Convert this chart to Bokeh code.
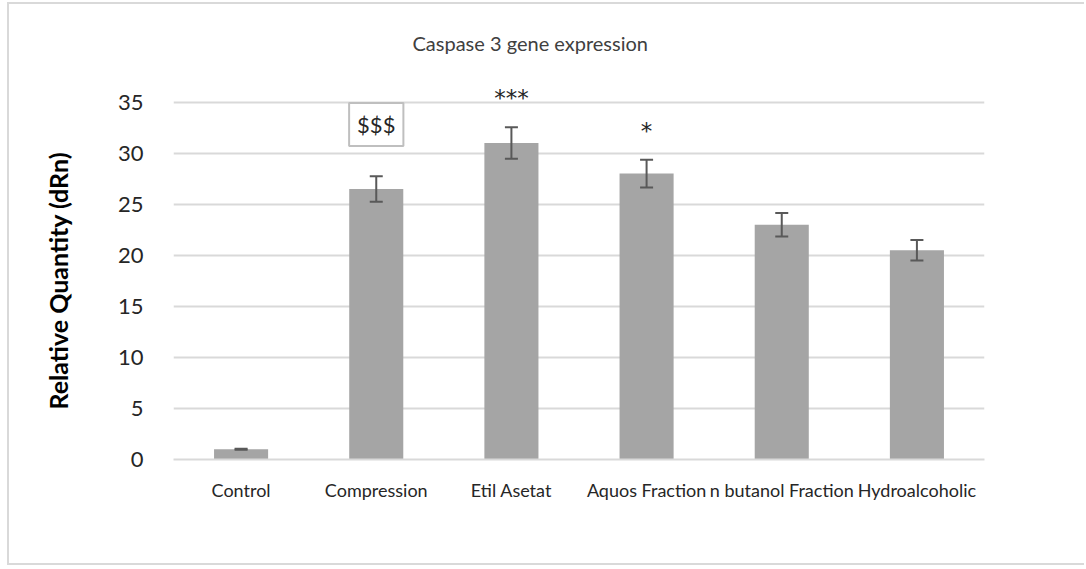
from bokeh.plotting import figure
from bokeh.models import ColumnDataSource, FactorRange, Whisker, TeeHead, Label, Range1d, SingleIntervalTicker
from bokeh.core.properties import value
from bokeh.embed import file_html
from bokeh.resources import INLINE

# Caspase 3 relative expression per treatment group
categories = ["Control", "Compression", "Etil Asetat", "Aquos Fraction",
              "n butanol Fraction", "Hydroalcoholic"]
means = [1.0, 26.5, 31.0, 28.0, 23.0, 20.5]
errors = [0.05, 1.25, 1.55, 1.35, 1.15, 1.0]
stars = ["", "", "***", "*", "", ""]
boxed_mark = "$$$"
boxed_group = "Compression"
y_ticks = [0, 5, 10, 15, 20, 25, 30, 35]

FONT = "Lato"
GRID = "#d9d9d9"
TEXT = "#262626"

src = ColumnDataSource(dict(
    cat=categories,
    mean=means,
    upper=[m + e for m, e in zip(means, errors)],
    lower=[m - e for m, e in zip(means, errors)],
))

p = figure(
    x_range=FactorRange(*categories),
    y_range=Range1d(0, 38),
    width=1077, height=563,
    min_border_left=164, min_border_right=102,
    min_border_top=67, min_border_bottom=108,
    output_backend="svg", toolbar_location=None,
    title="Caspase 3 gene expression",
)
p.styles = {
    "margin-left": "7px", "margin-top": "2px",
    "border-left": f"2px solid {GRID}",
    "border-top": f"2px solid {GRID}",
    "border-bottom": f"2px solid {GRID}",
}
p.outline_line_color = None
p.background_fill_color = "white"
p.border_fill_color = "white"

p.title.align = "left"
p.title.offset = 239
p.title.standoff = 33
p.title.text_font = FONT
p.title.text_font_size = "20px"
p.title.text_font_style = "normal"
p.title.text_color = "#404040"

p.vbar(x="cat", top="mean", width=0.4, source=src,
       fill_color="#a5a5a5", line_color=None)

err = Whisker(base="cat", upper="upper", lower="lower", source=src,
              level="annotation",
              line_color="#595959", line_width=2,
              upper_head=TeeHead(size=13, line_color="#595959", line_width=2),
              lower_head=TeeHead(size=13, line_color="#595959", line_width=2))
p.add_layout(err)

# significance asterisks above the error bars
star_src = ColumnDataSource(dict(
    cat=[c for c, s in zip(categories, stars) if s],
    y=[m + e + 2.85 for m, e, s in zip(means, errors, stars) if s],
    txt=[s for s in stars if s],
))
p.text(x="cat", y="y", text="txt", source=star_src,
       text_font=value("DejaVu Sans"), text_font_size="23px", text_color=TEXT,
       text_align="center", text_baseline="alphabetic")

# boxed marker over the compression group
gi = categories.index(boxed_group)
p.add_layout(Label(
    x=gi + 0.5, y=means[gi] + errors[gi] + 5.05, text=boxed_mark,
    text_font=FONT, text_font_size="22px", text_color=TEXT,
    text_align="center", text_baseline="middle",
    background_fill_color="white", border_line_color="#bfbfbf",
    border_line_width=2, padding=8,
))

p.xgrid.grid_line_color = None
p.ygrid.grid_line_color = GRID
p.ygrid.grid_line_width = 2
p.ygrid.ticker = SingleIntervalTicker(interval=5)

p.yaxis.ticker = y_ticks
p.yaxis.axis_line_color = None
p.yaxis.major_tick_line_color = None
p.yaxis.minor_tick_line_color = None
p.yaxis.major_label_standoff = 24
p.yaxis.major_label_text_font = FONT
p.yaxis.major_label_text_font_size = "22px"
p.yaxis.major_label_text_color = TEXT
# trailing no-break spaces nudge the rotated label down along the axis
p.yaxis.axis_label = "Relative Quantity (dRn)" + "\u00a0" * 5
p.yaxis.axis_label_text_font = FONT
p.yaxis.axis_label_text_font_style = "bold"
p.yaxis.axis_label_text_font_size = "25px"
p.yaxis.axis_label_text_color = "#000000"
p.yaxis.axis_label_standoff = 42

p.xaxis.axis_line_color = GRID
p.xaxis.axis_line_width = 2
p.xaxis.major_tick_line_color = None
p.xaxis.minor_tick_line_color = None
p.xaxis.major_label_standoff = 13
p.xaxis.major_label_text_font = FONT
p.xaxis.major_label_text_font_size = "18px"
p.xaxis.major_label_text_color = TEXT

open("out.html", "w").write(file_html(p, INLINE))
